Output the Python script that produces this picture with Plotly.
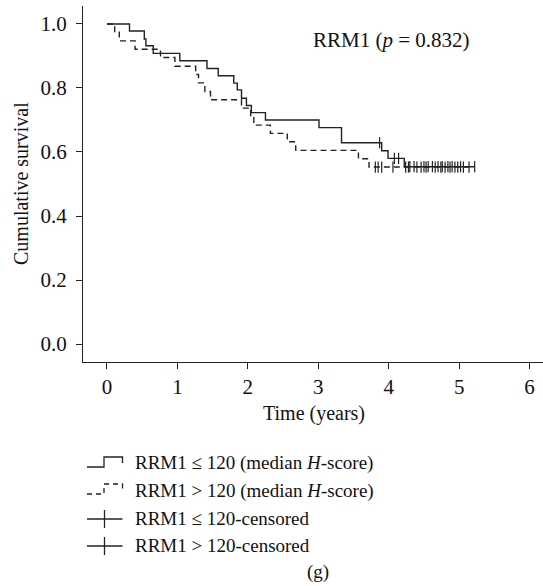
import plotly.graph_objects as go

# ---- data ----
time_low = [0, 0.32, 0.53, 0.553, 0.657, 1.035, 1.42, 1.58, 1.80, 1.85, 1.91, 1.98, 2.05, 2.25, 3.01, 3.33, 3.90, 3.99, 4.22, 5.22]
surv_low = [1.0, 0.978, 0.953, 0.932, 0.908, 0.885, 0.861, 0.838, 0.815, 0.794, 0.768, 0.745, 0.723, 0.700, 0.676, 0.629, 0.604, 0.580, 0.554, 0.554]

time_high = [0, 0.11, 0.175, 0.40, 0.76, 0.965, 1.26, 1.30, 1.39, 1.47, 1.91, 2.04, 2.085, 2.32, 2.56, 2.68, 3.57, 3.72, 5.14]
surv_high = [1.0, 0.974, 0.947, 0.921, 0.895, 0.868, 0.842, 0.816, 0.789, 0.763, 0.737, 0.711, 0.684, 0.658, 0.632, 0.605, 0.579, 0.553, 0.553]

cens_low = [3.87, 4.08, 4.14, 4.30, 4.36, 4.50, 4.56, 4.62, 4.70, 4.76, 4.84, 4.90, 5.02, 5.22]
cens_high = [3.81, 3.85, 3.90, 4.06, 4.24, 4.28, 4.40, 4.46, 4.53, 4.66, 4.74, 4.80, 4.87, 4.94, 4.98, 5.06, 5.14]

x_ticks = [0, 1, 2, 3, 4, 5, 6]
y_ticks = [0.0, 0.2, 0.4, 0.6, 0.8, 1.0]
y_tick_labels = ["0.0", "0.2", "0.4", "0.6", "0.8", "1.0"]

x_title = "Time (years)"
y_title = "Cumulative survival"
title_text = "RRM1 (<i>p</i> = 0.832)"
legend_labels = [
    "RRM1 ≤ 120 (median <i>H</i>-score)",
    "RRM1 > 120 (median <i>H</i>-score)",
    "RRM1 ≤ 120-censored",
    "RRM1 > 120-censored",
]
panel_label = "(g)"


def step_value(times, survs, t):
    v = survs[0]
    for tt, s in zip(times, survs):
        if tt <= t:
            v = s
    return v


FONT = "Liberation Serif"
COL = "#222222"
TXT = "#111111"
FS = 19
TFS = 21
W, H = 543, 586
ML, MR, MT, MB = 83, 0, 6, 224
PW, PH = W - ML - MR, H - MT - MB


def px(x):
    return (x - ML) / PW


def py(y):
    return (H - MB - y) / PH


fig = go.Figure()
fig.add_trace(go.Scatter(x=time_high, y=surv_high, mode="lines", line=dict(shape="hv", color=COL, width=1.4, dash="6px,4px"), showlegend=False))
fig.add_trace(go.Scatter(x=time_low, y=surv_low, mode="lines", line=dict(shape="hv", color=COL, width=1.4), showlegend=False))
fig.add_trace(go.Scatter(x=cens_high, y=[step_value(time_high, surv_high, t) for t in cens_high], mode="markers",
                         marker=dict(symbol="line-ns", size=8, line=dict(color=COL, width=1.2)), showlegend=False))
fig.add_trace(go.Scatter(x=cens_low, y=[step_value(time_low, surv_low, t) for t in cens_low], mode="markers",
                         marker=dict(symbol="line-ns", size=8, line=dict(color=COL, width=1.2)), showlegend=False))

fig.update_xaxes(range=[-0.34, 6.19], tickvals=x_ticks, showline=True, linecolor=COL, linewidth=1.3,
                 ticks="outside", ticklen=6, tickcolor=COL, tickwidth=1.2, showgrid=False, zeroline=False,
                 automargin=False, tickfont=dict(family=FONT, size=TFS, color=TXT))
fig.update_yaxes(range=[-0.056, 1.056], tickvals=y_ticks, ticktext=y_tick_labels, showline=True, linecolor=COL, linewidth=1.3,
                 ticks="outside", ticklen=6, tickcolor=COL, tickwidth=1.2, showgrid=False, zeroline=False,
                 automargin=False, ticklabelstandoff=5, tickfont=dict(family=FONT, size=TFS, color=TXT))

annotations = [
    dict(x=px(311), y=py(40), xref="paper", yref="paper", text=title_text, showarrow=False, xanchor="left", yanchor="middle",
         font=dict(family=FONT, size=21, color=TXT)),
    dict(x=px(314), y=py(413), xref="paper", yref="paper", text=x_title, showarrow=False, xanchor="center", yanchor="middle",
         font=dict(family=FONT, size=20, color=TXT)),
    dict(x=px(21), y=py(184), xref="paper", yref="paper", text=y_title, showarrow=False, xanchor="center", yanchor="middle",
         textangle=-90, font=dict(family=FONT, size=20, color=TXT)),
]
row_y = [463, 491, 518, 545]
for lab, ry in zip(legend_labels, row_y):
    annotations.append(dict(x=px(133), y=py(ry), xref="paper", yref="paper", text=lab, showarrow=False,
                            xanchor="left", yanchor="middle", font=dict(family=FONT, size=FS, color=TXT)))
annotations.append(dict(x=px(318), y=py(572), xref="paper", yref="paper", text=panel_label, showarrow=False,
                        xanchor="center", yanchor="middle", font=dict(family=FONT, size=FS, color=TXT)))

shapes = []


def path(points):
    return "M " + " L ".join(f"{px(a)},{py(b)}" for a, b in points)


shapes.append(dict(type="path", xref="paper", yref="paper", path=path([(87, 467), (104, 467), (104, 457), (122.5, 457), (122.5, 463)]),
                   line=dict(color=COL, width=1.3)))
shapes.append(dict(type="path", xref="paper", yref="paper", path=path([(87, 494), (104, 494), (104, 484), (122.5, 484), (122.5, 490)]),
                   line=dict(color=COL, width=1.3, dash="5px,4px")))
for cy in [519, 546]:
    shapes.append(dict(type="line", xref="paper", yref="paper", x0=px(87), x1=px(122.5), y0=py(cy), y1=py(cy), line=dict(color=COL, width=1.3)))
    shapes.append(dict(type="line", xref="paper", yref="paper", x0=px(104.5), x1=px(104.5), y0=py(cy - 9), y1=py(cy + 9), line=dict(color=COL, width=1.3)))

fig.update_layout(width=W, height=H, margin=dict(l=ML, r=MR, t=MT, b=MB), plot_bgcolor="white", paper_bgcolor="white",
                  annotations=annotations, shapes=shapes, showlegend=False)

fig.write_html("out.html", config={"displayModeBar": False},
               post_script="document.body.style.margin='0';document.body.style.overflow='hidden';")
